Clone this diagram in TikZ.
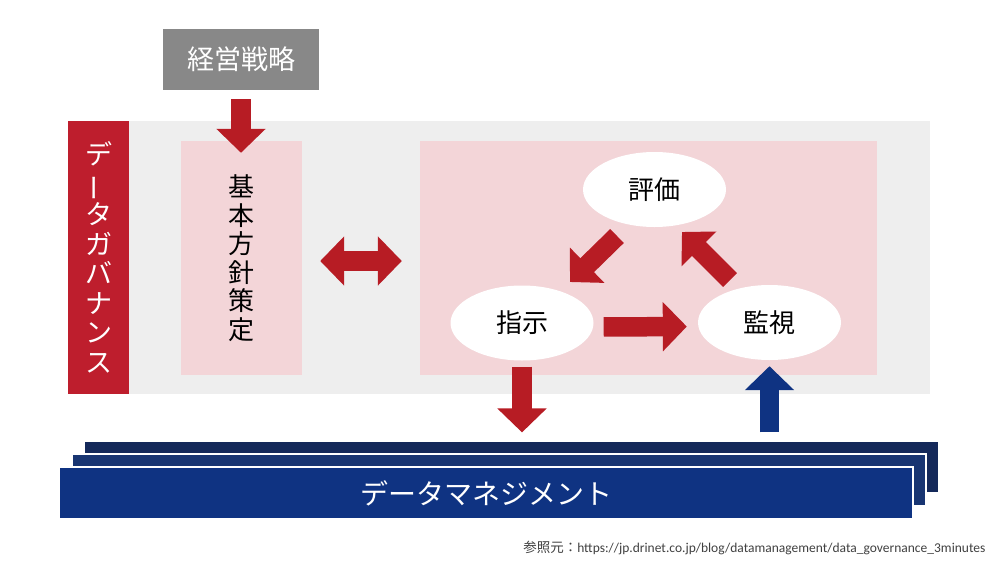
\documentclass[tikz,border=0pt]{standalone}
\usepackage{fontspec}
\usepackage{graphicx}
\setmainfont{Noto Sans CJK JP}
\newfontfamily\tatefont{Noto Sans CJK JP}
\newfontfamily\capfont{Carlito}
\usetikzlibrary{arrows.meta,shapes.geometric}

\definecolor{govred}{HTML}{BE1E2D}
\definecolor{arrred}{HTML}{B71C24}
\definecolor{lightpink}{HTML}{F3D5D8}
\definecolor{bggray}{HTML}{EEEEEE}
\definecolor{boxgray}{HTML}{888888}
\definecolor{navyA}{HTML}{14295A}
\definecolor{navyB}{HTML}{183572}
\definecolor{navyC}{HTML}{0F3382}

\newcommand{\tatebar}{\rotatebox[origin=c]{90}{ー}}
\tikzset{bigtip/.tip={Triangle[length=24pt,width=48pt]}}

\begin{document}
\begin{tikzpicture}[x=1pt, y=-1pt,
  redarrow/.style={draw=arrred, line width=19.5pt, -bigtip},
  bluearrow/.style={draw=navyC, line width=19.5pt, -bigtip},
  pinkbox/.style={fill=lightpink, inner sep=0pt},
  cycnode/.style={ellipse, fill=white, inner sep=0pt, minimum width=143pt,
    minimum height=75pt, font=\fontsize{26}{30}\selectfont},
  dmlayer/.style={draw=white, line width=1.2pt, inner sep=0pt,
    minimum width=854pt, minimum height=52pt}]
  \useasboundingbox[fill=white] (0,0) rectangle (1000,562);

  % Hintergrund
  \fill[bggray] (68,121) rectangle (930,394);

  % Kopf: Strategie
  \node[fill=boxgray, minimum width=156pt, minimum height=61pt, text=white,
    font=\fontsize{27}{30}\selectfont] (strat) at (241,59.5) {経営戦略};

  % Senkrechte Leiste links
  \node[fill=govred, minimum width=61pt, minimum height=273pt, text=white,
    align=center, font=\tatefont\fontsize{27}{29.5}\selectfont]
    (gov) at (98.5,257.5) {デ\\\tatebar\\タ\\ガ\\バ\\ナ\\ン\\ス};

  % Felder
  \node[pinkbox, minimum width=121pt, minimum height=234pt, align=center,
    font=\tatefont\fontsize{26}{28.5}\selectfont]
    (kihon) at (241.5,258) {基\\本\\方\\針\\策\\定};
  \node[pinkbox, minimum width=457pt, minimum height=234pt]
    (cycle) at (648.5,258) {};

  % Kreislauf
  \node[cycnode] (hyoka) at (654.5,189.5) {評価};
  \node[cycnode] (shiji) at (522,323) {指示};
  \node[cycnode] (kanshi) at (769.5,322.5) {監視};

  \coordinate (evtail) at (617,236);
  \coordinate (evtip) at (570,282);
  \coordinate (motail) at (730,280);
  \coordinate (motip) at (682,232);

  % Pfeile
  \draw[redarrow] ([yshift=-9pt]strat.south)
    -- ([yshift=-12pt]strat.south |- kihon.north);
  \draw[redarrow, bigtip-bigtip] ([xshift=18pt, yshift=-3pt]kihon.east)
    -- ([xshift=-18pt, yshift=-3pt]kihon.east -| cycle.west);
  \draw[redarrow] (evtail) -- (evtip);
  \draw[redarrow] (motail) -- (motip);
  \draw[redarrow, shorten <=10pt, shorten >=11pt]
    ([yshift=-4pt]shiji.east) -- ([yshift=-4pt]kanshi.west);

  % Datenmanagement (drei Lagen)
  \node[dmlayer, fill=navyA] (dmback) at (511.5,467) {};
  \node[dmlayer, fill=navyB] (dmmid) at (499,480) {};
  \node[dmlayer, fill=navyC, text=white, font=\fontsize{28}{32}\selectfont]
    (dmfront) at (486,493) {データマネジメント};

  \draw[redarrow, shorten >=8pt] ([yshift=-6pt]shiji.south)
    -- (shiji.south |- dmback.north);
  \draw[bluearrow] ([yshift=8pt]kanshi.south |- dmback.north)
    -- ([yshift=-6pt]kanshi.south);

  % Quelle
  \node[anchor=east, text=black!75, font=\fontsize{13.5}{15}\selectfont]
    (src) at (989,548)
    {参照元：{\capfont https://jp.drinet.co.jp/blog/datamanagement/data\_governance\_3minutes}};
\end{tikzpicture}
\end{document}
